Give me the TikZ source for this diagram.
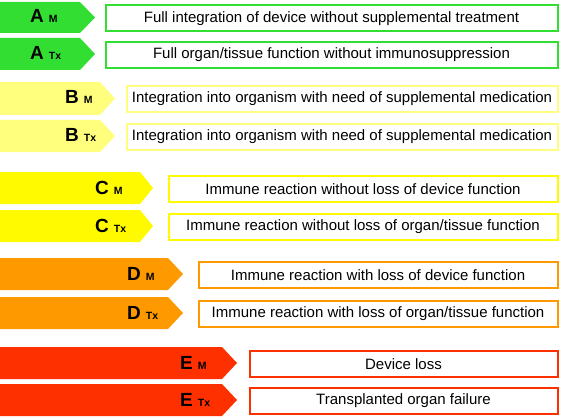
\documentclass[tikz,border=0pt]{standalone}
\usepackage{fontspec}
\setmainfont{Liberation Sans}
\definecolor{cA}{RGB}{51,222,51}
\definecolor{cB}{RGB}{255,255,125}
\definecolor{cC}{RGB}{255,250,0}
\definecolor{cD}{RGB}{255,153,0}
\definecolor{cE}{RGB}{255,48,0}
\tikzset{
  lab/.style={anchor=base west, inner sep=0pt, text=black},
  box/.style={draw=#1, line width=2pt, fill=white, anchor=north west, inner sep=0pt,
     font=\fontsize{15}{17}\selectfont, text=black}
}
\newcommand{\grade}[2]{{\fontsize{19}{19}\selectfont\bfseries #1}\hspace{5pt}{\fontsize{10.5}{10.5}\selectfont\bfseries #2}}
% arrow: color, top, bottom, tipstart, tip
\newcommand{\arr}[5]{\fill[#1] (0,#2) -- (#4,#2) -- (#5,{(#2+#3)/2}) -- (#4,#3) -- (0,#3) -- cycle;}
\begin{document}
\begin{tikzpicture}[x=1pt,y=-1pt]
\useasboundingbox (0,0) rectangle (567,417);
% A
\arr{cA}{2}{33}{80}{95}
\arr{cA}{38}{70}{80}{95}
\node[lab] (lAM) at (30,23) {\grade{A}{M}};
\node[lab] (lATx) at (30,60) {\grade{A}{Tx}};
\node[box=cA, minimum width=452pt, minimum height=26pt] (bAM) at (104.5,4.5) {Full integration of device without supplemental treatment};
\node[box=cA, minimum width=452pt, minimum height=26pt] (bATx) at (104.5,41) {Full organ/tissue function without immunosuppression};
% B
\arr{cB}{82}{115}{100}{115}
\arr{cB}{120}{152}{100}{115}
\node[lab] (lBM) at (65,104) {\grade{B}{M}};
\node[lab] (lBTx) at (65,142) {\grade{B}{Tx}};
\node[box=cB, minimum width=431pt, minimum height=26pt] (bBM) at (125.5,85) {Integration into organism with need of supplemental medication};
\node[box=cB, minimum width=431pt, minimum height=26pt] (bBTx) at (125.5,123) {Integration into organism with need of supplemental medication};
% C
\arr{cC}{172}{204}{140}{153}
\arr{cC}{210}{242}{140}{153}
\node[lab] (lCM) at (95,194) {\grade{C}{M}};
\node[lab] (lCTx) at (95,232) {\grade{C}{Tx}};
\node[box=cC, minimum width=389pt, minimum height=26pt] (bCM) at (167.5,175) {Immune reaction without loss of device function};
\node[box=cC, minimum width=389pt, minimum height=26pt] (bCTx) at (167.5,213) {Immune reaction without loss of organ/tissue function};
% D
\arr{cD}{258}{290}{168}{183}
\arr{cD}{297}{329}{168}{183}
\node[lab] (lDM) at (127,280) {\grade{D}{M}};
\node[lab] (lDTx) at (127,319) {\grade{D}{Tx}};
\node[box=cD, minimum width=359pt, minimum height=26pt] (bDM) at (197.5,261) {Immune reaction with loss of device function};
\node[box=cD, minimum width=359pt, minimum height=26pt] (bDTx) at (197.5,300) {Immune reaction with loss of organ/tissue function};
% E
\arr{cE}{347}{379}{222}{237}
\arr{cE}{384}{416}{222}{237}
\node[lab] (lEM) at (180,369) {\grade{E}{M}};
\node[lab] (lETx) at (180,406) {\grade{E}{Tx}};
\node[box=cE, minimum width=308pt, minimum height=26pt] (bEM) at (248.5,350) {Device loss};
\node[box=cE, minimum width=308pt, minimum height=26pt] (bETx) at (248.5,387) {Transplanted organ failure};
\end{tikzpicture}
\end{document}
